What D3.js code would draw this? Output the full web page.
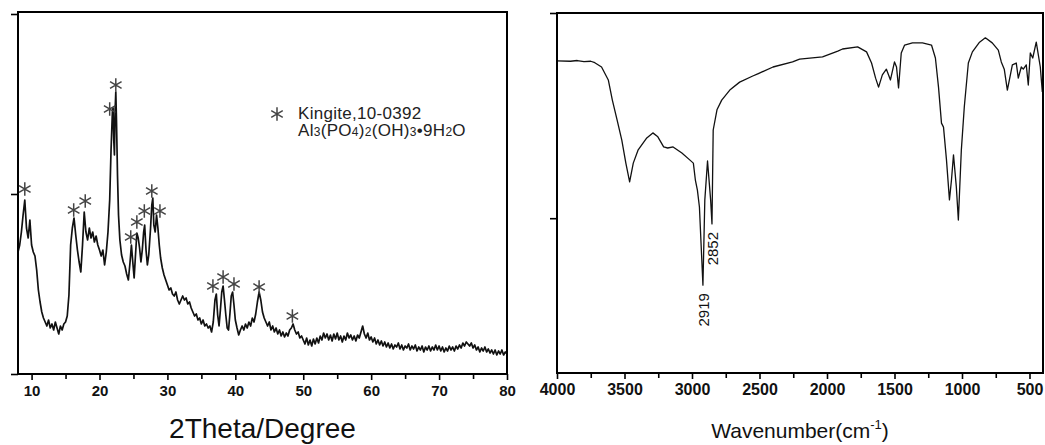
<!DOCTYPE html>
<html><head><meta charset="utf-8">
<script src="https://cdn.jsdelivr.net/npm/d3@7/dist/d3.min.js"></script>
<style>
html,body{margin:0;padding:0;background:#fff;}
svg{display:block;font-family:"Liberation Sans",Arial,sans-serif;}
</style></head>
<body>
<svg id="chart" width="1045" height="445"></svg>
<script>
// ---------- DATA ----------
// XRD pattern: [2theta (degree), intensity (counts)]
const xrdData = [
[8.00,1220],[8.25,1290],[8.50,1420],[8.75,1590],[9.00,1740],[9.25,1460],[9.50,1360],[9.75,1540],
[10.00,1290],[10.25,1220],[10.50,1180],[10.75,1040],[11.00,840],[11.25,720],[11.50,620],[11.75,560],
[12.00,520],[12.25,480],[12.50,540],[12.75,460],[13.00,500],[13.25,440],[13.50,520],[13.75,460],
[14.00,400],[14.25,480],[14.50,440],[14.75,500],[15.00,520],[15.25,580],[15.50,790],[15.75,1290],
[16.00,1460],[16.25,1560],[16.50,1390],[16.75,1240],[17.00,1120],[17.25,1020],[17.50,1290],[17.75,1620],
[18.00,1420],[18.25,1340],[18.50,1460],[18.75,1360],[19.00,1420],[19.25,1320],[19.50,1380],[19.75,1290],
[20.00,1240],[20.25,1180],[20.50,1240],[20.75,1090],[21.00,1220],[21.25,1420],[21.50,1740],[21.70,2240],
[21.90,2620],[22.00,2660],[22.10,2340],[22.20,2190],[22.30,2640],[22.40,2820],[22.50,2540],[22.65,1990],
[22.80,1590],[23.00,1340],[23.25,1190],[23.50,1120],[23.75,1080],[24.00,1000],[24.25,940],[24.50,1120],
[24.70,1290],[24.90,1120],[25.10,960],[25.30,1190],[25.50,1410],[25.70,1360],[25.90,1260],[26.10,1120],
[26.30,1240],[26.50,1420],[26.65,1490],[26.85,1240],[27.05,1090],[27.25,1190],[27.50,1440],[27.70,1690],
[27.85,1760],[28.00,1490],[28.20,1420],[28.40,1590],[28.60,1460],[28.80,1290],[29.00,1160],[29.25,1060],
[29.50,990],[29.75,940],[30.00,890],[30.25,840],[30.50,860],[30.75,800],[31.00,780],[31.25,820],
[31.50,740],[31.75,700],[32.00,740],[32.25,780],[32.50,740],[32.75,760],[33.00,700],[33.25,720],
[33.50,660],[33.75,620],[34.00,580],[34.25,600],[34.50,540],[34.75,560],[35.00,500],[35.25,540],
[35.50,480],[35.75,500],[36.00,460],[36.25,480],[36.50,420],[36.75,520],[37.00,740],[37.20,800],
[37.40,590],[37.60,480],[37.80,640],[38.00,820],[38.20,880],[38.40,740],[38.60,590],[38.80,460],
[39.00,440],[39.20,600],[39.40,780],[39.60,820],[39.80,690],[40.00,540],[40.25,460],[40.50,390],
[40.75,440],[41.00,480],[41.25,440],[41.50,500],[41.75,460],[42.00,520],[42.25,480],[42.50,560],
[42.75,520],[43.00,600],[43.25,720],[43.50,820],[43.75,740],[44.00,620],[44.25,560],[44.50,520],
[44.75,480],[45.00,520],[45.25,440],[45.50,480],[45.75,420],[46.00,460],[46.25,400],[46.50,440],
[46.75,380],[47.00,420],[47.25,370],[47.50,410],[47.75,380],[48.00,440],[48.25,460],[48.50,500],
[48.75,440],[49.00,400],[49.25,420],[49.50,360],[49.75,380],[50.00,340],[50.25,300],[50.50,360],
[50.75,290],[51.00,340],[51.25,280],[51.50,350],[51.75,300],[52.00,360],[52.25,310],[52.50,380],
[52.75,340],[53.00,410],[53.25,360],[53.50,400],[53.75,340],[54.00,390],[54.25,330],[54.50,400],
[54.75,350],[55.00,410],[55.25,340],[55.50,380],[55.75,320],[56.00,380],[56.25,340],[56.50,410],
[56.75,360],[57.00,390],[57.25,340],[57.50,380],[57.75,330],[58.00,390],[58.25,360],[58.50,420],
[58.75,480],[59.00,400],[59.25,360],[59.50,410],[59.75,340],[60.00,370],[60.25,320],[60.50,360],
[60.75,300],[61.00,340],[61.25,290],[61.50,330],[61.75,280],[62.00,320],[62.25,270],[62.50,310],
[62.75,260],[63.00,300],[63.25,250],[63.50,290],[63.75,270],[64.00,310],[64.25,250],[64.50,290],
[64.75,240],[65.00,280],[65.25,260],[65.50,300],[65.75,240],[66.00,280],[66.25,250],[66.50,290],
[66.75,230],[67.00,270],[67.25,240],[67.50,280],[67.75,220],[68.00,270],[68.25,240],[68.50,280],
[68.75,230],[69.00,270],[69.25,240],[69.50,290],[69.75,240],[70.00,280],[70.25,230],[70.50,270],
[70.75,220],[71.00,260],[71.25,230],[71.50,280],[71.75,240],[72.00,270],[72.25,230],[72.50,280],
[72.75,250],[73.00,290],[73.25,260],[73.50,310],[73.75,280],[74.00,320],[74.25,300],[74.50,280],
[74.75,310],[75.00,260],[75.25,290],[75.50,240],[75.75,270],[76.00,220],[76.25,260],[76.50,230],
[76.75,270],[77.00,220],[77.25,250],[77.50,210],[77.75,240],[78.00,200],[78.25,240],[78.50,190],
[78.75,230],[79.00,200],[79.25,240],[79.50,190],[79.75,220],[80.00,200]
];
// Kingite peak markers: [2theta, marker height (counts)]
const xrdMarkers = [
[9.0,1850],[16.2,1640],[17.9,1730],[21.5,2650],[22.4,2890],[24.6,1370],[25.5,1520],[26.6,1630],
[27.7,1830],[28.9,1630],[36.7,880],[38.2,970],[39.8,900],[43.5,870],[48.4,580]
];
const xrdXTicks = [10,20,30,40,50,60,70,80];
const xrdXMinor = [15,25,35,45,55,65,75];
const xrdYTicks = [0,1800,3600];
const xrdXDomain = [8,80];
const xrdYDomain = [0,3620];

// FTIR spectrum: [wavenumber (cm-1), transmittance (a.u.)]
const irData = [
[4000,86.7],[3900,86.6],[3850,86.8],[3800,86.5],[3750,86.6],[3720,86.2],[3670,85.0],[3620,81.4],
[3590,75.8],[3555,70.3],[3520,64.7],[3490,58.3],[3462,53.1],[3435,58.3],[3400,61.9],[3335,65.3],
[3290,66.7],[3253,65.6],[3210,62.8],[3180,62.5],[3140,62.8],[3075,61.1],[3017,59.2],[2990,58.3],
[2975,53.6],[2960,50.8],[2945,46.1],[2919,24.4],[2905,48.1],[2885,58.9],[2862,48.1],[2852,41.4],
[2843,67.5],[2815,73.1],[2780,75.8],[2720,78.6],[2647,80.8],[2550,82.5],[2513,83.1],[2400,85.0],
[2255,86.4],[2203,87.2],[2033,87.8],[1920,89.4],[1885,90.0],[1773,90.6],[1707,89.2],[1670,86.1],
[1640,81.9],[1618,79.4],[1590,82.8],[1560,84.4],[1530,81.4],[1500,86.4],[1485,85.0],[1470,79.2],
[1450,88.9],[1425,91.1],[1367,91.7],[1293,91.7],[1226,91.1],[1197,87.5],[1174,79.4],[1152,69.4],
[1137,68.3],[1115,59.2],[1093,48.1],[1078,53.6],[1063,60.6],[1042,51.7],[1027,42.5],[1005,61.9],
[983,73.9],[953,86.1],[923,89.2],[870,91.9],[827,93.1],[776,91.7],[731,89.7],[709,86.4],
[687,84.4],[664,78.6],[627,85.6],[598,86.1],[583,81.9],[561,85.0],[546,84.4],[524,85.6],
[509,80.0],[494,88.9],[476,87.5],[450,91.9],[420,85.0],[405,78.1]
];
const irLabels = [[2919,"2919"],[2852,"2852"]];
const irXTicks = [4000,3500,3000,2500,2000,1500,1000,500];
const irXMinor = [3750,3250,2750,2250,1750,1250,750];
const irYTicks = [43,100];
const irXDomain = [4000,400];
const irYDomain = [0,100];

// ---------- DRAW ----------
const svg = d3.select("#chart");
const FONT = '"Liberation Sans",Arial,sans-serif';

function panel(o){
  const g = svg.append("g");
  const x = d3.scaleLinear().domain(o.xDomain).range([o.left,o.right]);
  const y = d3.scaleLinear().domain(o.yDomain).range([o.bottom,o.top]);
  g.append("path").datum(o.data)
    .attr("fill","none").attr("stroke","#111").attr("stroke-width",o.lw)
    .attr("stroke-linejoin","round")
    .attr("d", d3.line().x(d=>x(d[0])).y(d=>y(d[1])));
  g.append("rect").attr("x",o.left).attr("y",o.top)
    .attr("width",o.right-o.left).attr("height",o.bottom-o.top)
    .attr("fill","none").attr("stroke","#000").attr("stroke-width",2);
  const ax = d3.axisBottom(x).tickValues(o.xTicks).tickSize(6).tickPadding(5).tickFormat(d3.format("d"));
  const axg = g.append("g").attr("transform",`translate(0,${o.bottom})`).call(ax);
  axg.select(".domain").remove();
  axg.selectAll("line").attr("stroke","#000").attr("stroke-width",1.6);
  axg.selectAll("text").attr("font-family",FONT).attr("font-weight","bold")
     .attr("font-size",o.tickFont).attr("fill","#111");
  const mx = d3.axisBottom(x).tickValues(o.xMinor).tickSize(5).tickFormat("");
  const mg = g.append("g").attr("transform",`translate(0,${o.bottom})`).call(mx);
  mg.select(".domain").remove();
  mg.selectAll("line").attr("stroke","#000").attr("stroke-width",1.6);
  const ay = d3.axisLeft(y).tickValues(o.yTicks).tickSize(7).tickFormat("");
  const ayg = g.append("g").attr("transform",`translate(${o.left},0)`).call(ay);
  ayg.select(".domain").remove();
  ayg.selectAll("line").attr("stroke","#000").attr("stroke-width",1.6);
  return {g,x,y};
}

// Left: XRD
const L = panel({data:xrdData,xDomain:xrdXDomain,yDomain:xrdYDomain,left:18,right:507,top:12,bottom:374,
  xTicks:xrdXTicks,xMinor:xrdXMinor,yTicks:xrdYTicks,tickFont:15,lw:1.7});
const star = d3.symbol().type(d3.symbolAsterisk).size(125);
L.g.selectAll("path.star").data(xrdMarkers).join("path").attr("class","star")
  .attr("d",star).attr("transform",d=>`translate(${L.x(d[0])},${L.y(d[1])})`)
  .attr("fill","none").attr("stroke","#444").attr("stroke-width",1.5);
L.g.append("path").attr("d",star).attr("transform","translate(277,114)")
  .attr("fill","none").attr("stroke","#444").attr("stroke-width",1.5);
L.g.append("text").attr("x",298).attr("y",119).attr("font-size",17).attr("fill","#222")
  .attr("letter-spacing",0.3).text("Kingite,10-0392");
const f = L.g.append("text").attr("x",298).attr("y",136).attr("font-size",17).attr("fill","#222").attr("letter-spacing",0.3);
const parts = [["Al",0],["3",1],["(PO",0],["4",1],[")",0],["2",1],["(OH)",0],["3",1],["\u20229H",0],["2",1],["O",0]];
parts.forEach(p=>{ f.append("tspan").attr("font-size",p[1]?12:17).text(p[0]); });
L.g.append("text").attr("x",(18+507)/2).attr("y",438).attr("text-anchor","middle")
  .attr("font-size",28).attr("fill","#111").text("2Theta/Degree");

// Right: FTIR
const R = panel({data:irData,xDomain:irXDomain,yDomain:irYDomain,left:557,right:1043,top:13,bottom:373,
  xTicks:irXTicks,xMinor:irXMinor,yTicks:irYTicks,tickFont:16,lw:1.3});
const minT = w => irData.find(d=>d[0]===w)[1];
R.g.selectAll("text.lab").data(irLabels).join("text").attr("class","lab")
  .attr("transform",d=>`translate(${R.x(d[0])+6},${R.y(minT(d[0]))+8}) rotate(-90)`)
  .attr("text-anchor","end").attr("font-size",15).attr("fill","#111").text(d=>d[1]);
const xl = R.g.append("text").attr("x",(557+1043)/2).attr("y",438).attr("text-anchor","middle")
  .attr("font-size",21).attr("fill","#111");
xl.append("tspan").text("Wavenumber(cm");
xl.append("tspan").attr("font-size",13).attr("dy",-9).text("-1");
xl.append("tspan").attr("dy",9).text(")");
</script>
</body></html>
